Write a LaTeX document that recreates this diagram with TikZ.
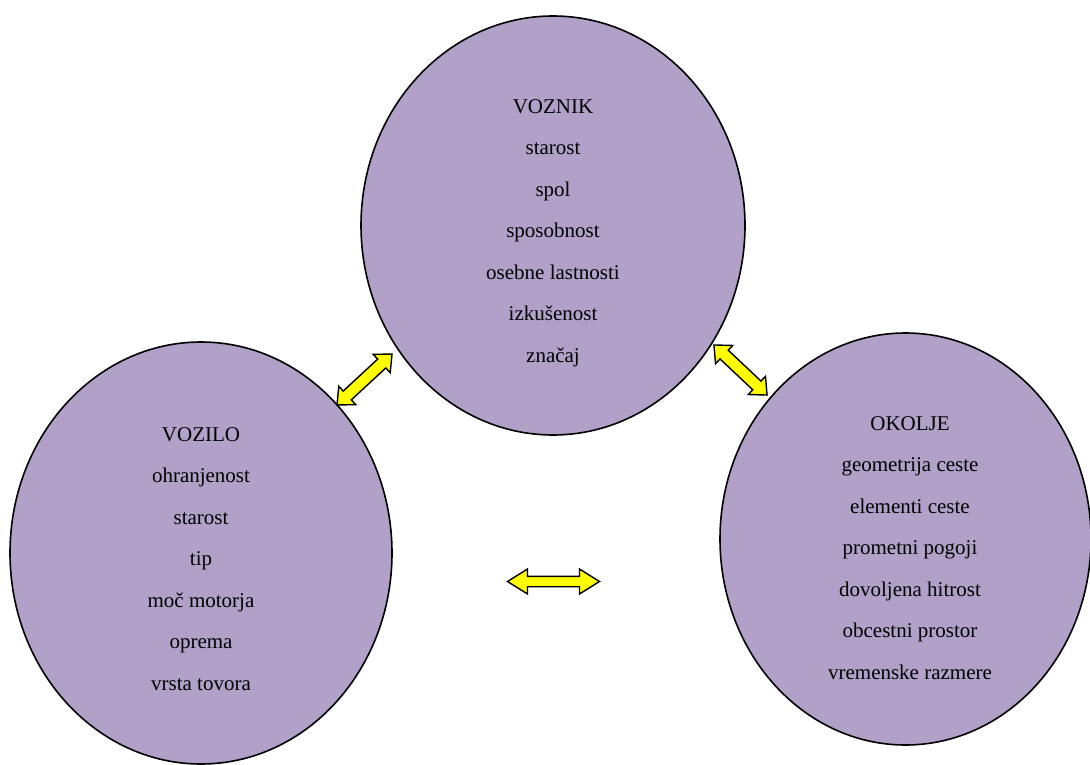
\documentclass[tikz,border=0pt]{standalone}
\usepackage{fontspec}
\setmainfont{Liberation Serif}
\usetikzlibrary{shapes.geometric}
\definecolor{lilac}{RGB}{177,160,199}
\definecolor{arrowyellow}{RGB}{255,255,0}
\tikzset{
  factor/.style={ellipse, draw=black, line width=1.6pt, fill=lilac, inner sep=0pt},
  factortext/.style={align=center, anchor=north, inner sep=0pt,
    font=\fontsize{21}{41.5}\selectfont},
  dblarrow/.style={draw=black, line width=1.4pt, fill=arrowyellow, line join=miter}
}
% double-headed block arrow: half length, head length, half head width, half shaft width
\newcommand\blockarrow[4]{%
  (-#1,0) -- (-#1+#2,#3) -- (-#1+#2,#4) -- (#1-#2,#4) -- (#1-#2,#3) -- (#1,0)
  -- (#1-#2,-#3) -- (#1-#2,-#4) -- (-#1+#2,-#4) -- (-#1+#2,-#3) -- cycle}
\begin{document}
\begin{tikzpicture}[x=1pt,y=-1pt]
\useasboundingbox (0,0) rectangle (1090,765);

% the three factor ellipses
\node[factor, minimum width=384pt, minimum height=419pt] (voznik) at (553,225.5) {};
\node[factor, minimum width=382pt, minimum height=422pt] (vozilo) at (201,553) {};
\node[factor, minimum width=371pt, minimum height=412pt] (okolje) at (905.5,539) {};

% their labels
\node[factortext] (voznik-text) at (553,99)
  {VOZNIK\\starost\\spol\\sposobnost\\osebne lastnosti\\izkušenost\\značaj};
\node[factortext] (vozilo-text) at (201,427)
  {VOZILO\\ohranjenost\\starost\\tip\\moč motorja\\oprema\\vrsta tovora};
\node[factortext] (okolje-text) at (910,416)
  {OKOLJE\\geometrija ceste\\elementi ceste\\prometni pogoji\\dovoljena hitrost\\obcestni prostor\\vremenske razmere};

% interaction arrows between the factors
\begin{scope}[shift={(364.5,379.5)}, rotate=42.8]
  \draw[dblarrow] \blockarrow{37.5}{14}{12.5}{6};
\end{scope}
\begin{scope}[shift={(740.5,370)}, rotate=-43.3]
  \draw[dblarrow] \blockarrow{36.5}{14}{12.5}{6};
\end{scope}
\begin{scope}[shift={(553.5,581.5)}]
  \draw[dblarrow] \blockarrow{46}{20}{12.5}{5.2};
\end{scope}
\end{tikzpicture}
\end{document}
